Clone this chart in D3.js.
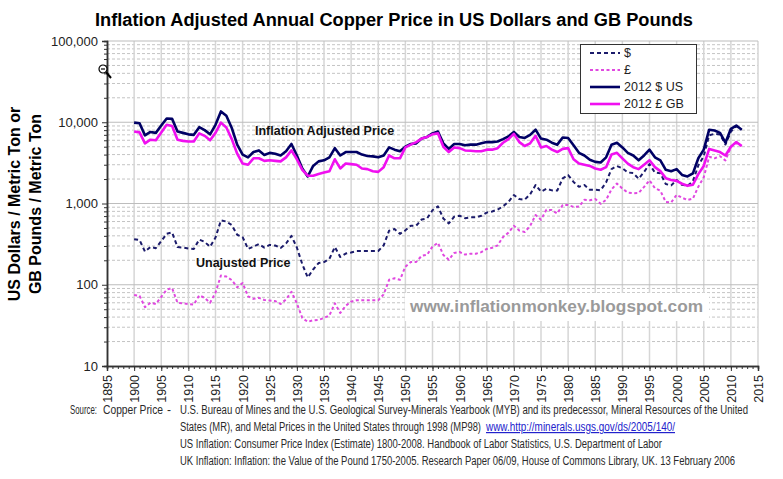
<!DOCTYPE html>
<html>
<head>
<meta charset="utf-8">
<script src="https://cdn.jsdelivr.net/npm/d3@7"></script>
<style>
  body { margin: 0; background: #fff; }
  svg text { font-family: "Liberation Sans", Arial, sans-serif; }
</style>
</head>
<body>
<div id="chart"></div>
<script>
//
// Inflation adjusted copper price, 1900-2012
// nominal and 2012-money prices per metric ton, log scale
//

////////////////////////////////////////////////////////////////////////
// Data

const years = d3.range(1900, 2013);

// nominal US dollars / metric ton
const usNominal = [
  364, 355, 256, 291, 282, 344, 425, 441, 291, 287,     // 1900s
  280, 276, 359, 337, 293, 381, 620, 600, 542, 412,     // 1910s
  386, 276, 295, 317, 287, 309, 304, 284, 322, 399,     // 1920s
  287, 179, 123, 154, 185, 190, 209, 291, 220, 242,     // 1930s
  249, 260, 260, 260, 260, 260, 306, 463, 485, 423,     // 1940s
  467, 534, 534, 635, 655, 827, 922, 653, 569, 688,     // 1950s
  708, 659, 675, 675, 705, 772, 798, 842, 922, 1047,    // 1960s
  1272, 1133, 1116, 1299, 1689, 1400, 1517, 1451, 1444, 2035, // 1970s
  2235, 1845, 1607, 1687, 1473, 1477, 1457, 1819, 2657, 2886, // 1980s
  2716, 2410, 2368, 2019, 2449, 3049, 2403, 2357, 1733, 1671, // 1990s
  1944, 1695, 1656, 1874, 2950, 3825, 6922, 7209, 7077, 5313, // 2000s
  7672, 8929, 8091
];

// nominal GB pounds / metric ton
const gbNominal = [
  75, 73, 53, 60, 58, 71, 87, 91, 60, 59,
  58, 57, 74, 69, 60, 80, 130, 126, 114, 93,
  105, 72, 67, 69, 65, 64, 63, 58, 66, 82,
  59, 39, 35, 36.5, 37, 39, 42, 59, 45, 55,
  62, 64.5, 64.5, 64.5, 64.5, 64.5, 76, 115, 120, 115,
  167, 191, 191, 227, 234, 295, 329, 233, 203, 246,
  253, 235, 241, 241, 252, 276, 285, 306, 386, 438,
  532, 464, 446, 530, 722, 631, 838, 829, 752, 960,
  959, 909, 918, 1110, 1099, 1136, 991, 1109, 1493, 1760,
  1526, 1362, 1338, 1346, 1601, 1930, 1540, 1437, 1044, 1031,
  1279, 1177, 1104, 1150, 1612, 2102, 3762, 3605, 3825, 3384,
  4950, 5581, 5100
];

// 2012 US dollars / metric ton
const usAdjusted = [
  9900, 9700, 6900, 7600, 7400, 9100, 11100, 11000, 7700, 7400,
  7100, 7000, 8700, 8000, 7100, 9300, 13600, 12000, 8500, 5300,
  4000, 3700, 4300, 4500, 3950, 4200, 4100, 3900, 4400, 5400,
  3900, 2700, 2150, 2900, 3300, 3400, 3700, 4800, 3900, 4300,
  4300, 4300, 4000, 3850, 3800, 3700, 3900, 4900, 4600, 4400,
  5000, 5400, 5500, 6300, 6600, 7300, 7700, 5500, 4700, 5400,
  5400, 5200, 5300, 5300, 5500, 5700, 5700, 5800, 6200, 6700,
  7600, 6600, 6400, 7000, 8100, 6300, 6100, 5600, 5300, 6500,
  6400, 5200, 4200, 3900, 3450, 3250, 3200, 3700, 5300, 5600,
  4900, 4200, 3900, 3400, 3900, 4600, 3700, 3400, 2600, 2500,
  2650, 2250, 2150, 2350, 3600, 4600, 8100, 7900, 7400, 5600,
  8300, 9100, 8100
];

// 2012 GB pounds / metric ton
const gbAdjusted = [
  7700, 7500, 5500, 6100, 6000, 7500, 9300, 9000, 6100, 5900,
  5800, 5800, 7300, 6800, 6000, 7400, 9900, 8600, 6200, 4100,
  3100, 3000, 3600, 3600, 3350, 3400, 3350, 3300, 3700, 4500,
  3500, 2600, 2200, 2200, 2300, 2400, 2500, 3500, 2700, 3100,
  3050, 3000, 2700, 2650, 2500, 2450, 2800, 3900, 3600, 3600,
  4900, 5300, 5700, 6300, 6600, 7100, 7300, 5000, 4300, 4900,
  4800, 4500, 4450, 4400, 4400, 4600, 4600, 4800, 5600, 6200,
  7200, 5700, 5100, 5500, 6800, 4900, 5100, 4600, 4300, 4700,
  4800, 3500, 3100, 3000, 2900, 2700, 2600, 2800, 4000, 4200,
  3600, 3100, 2800, 2650, 3000, 3400, 2800, 2500, 2050, 1950,
  1900, 1750, 1650, 1700, 2300, 2900, 4700, 4500, 4300, 3900,
  5000, 5700, 5100
];

const seriesNames = ["$", "£", "2012 $ US", "2012 £ GB"];

// axis ticks
const xMajorTicks = d3.range(1895, 2016, 5);
const xMinorTicks = d3.range(1895, 2016, 1);
const yMajorTicks = [10, 100, 1000, 10000, 100000];

const sourceText = [
  "U.S. Bureau of Mines and the U.S. Geological Survey-Minerals Yearbook (MYB) and its predecessor, Mineral Resources of the United",
  "States (MR), and Metal Prices in the United States through 1998 (MP98)",
  "www.http://minerals.usgs.gov/ds/2005/140/",
  "US Inflation:  Consumer Price Index (Estimate) 1800-2008. Handbook of Labor Statistics, U.S. Department of Labor",
  "UK Inflation:  Inflation: the Value of the Pound 1750-2005. Research Paper 06/09, House of Commons Library, UK. 13 February 2006"
];

////////////////////////////////////////////////////////////////////////
// Layout

const width = 783, height = 479;

const svg = d3.select("#chart")
  .append("svg")
  .attr("width", width)
  .attr("height", height);

const xScale = d3.scaleLinear().domain([1895, 2015]).range([107, 758]);
const yScale = d3.scaleLog().domain([10, 100000]).range([366, 41]);

// minor log positions 2..9 in each decade
let yMinorTicks = [];
yMajorTicks.slice(0, -1).forEach(function (d) {
  for (let k = 2; k <= 9; k++) yMinorTicks.push(d * k);
});

////////////////////////////////////////////////////////////////////////
// Grid

let grid = svg.append("g").attr("class", "grid");

grid.selectAll(".minor")
  .data(yMinorTicks)
  .enter()
  .append("line")
  .attr("x1", xScale(1895))
  .attr("x2", xScale(2015))
  .attr("y1", d => yScale(d))
  .attr("y2", d => yScale(d))
  .attr("stroke", "#c4c4c4")
  .attr("stroke-width", 1)
  .attr("stroke-dasharray", "3,2");

grid.selectAll(".vert")
  .data(xMajorTicks.slice(1))
  .enter()
  .append("line")
  .attr("x1", d => xScale(d))
  .attr("x2", d => xScale(d))
  .attr("y1", yScale(100000))
  .attr("y2", yScale(10))
  .attr("stroke", "#d6d6d6")
  .attr("stroke-width", 1.5);

grid.selectAll(".major")
  .data(yMajorTicks.slice(1))
  .enter()
  .append("line")
  .attr("x1", xScale(1895))
  .attr("x2", xScale(2015))
  .attr("y1", d => yScale(d))
  .attr("y2", d => yScale(d))
  .attr("stroke", "#bdbdbd")
  .attr("stroke-width", 1.2);

// white box behind the blog address
svg.append("rect")
  .attr("x", 405)
  .attr("y", 293)
  .attr("width", 304)
  .attr("height", 28)
  .attr("fill", "#fff");

////////////////////////////////////////////////////////////////////////
// Axes

let yAxis = d3.axisLeft(yScale)
  .tickValues(yMajorTicks)
  .tickFormat(d3.format(","))
  .tickSize(5)
  .tickPadding(4);

let yAxisMinor = d3.axisLeft(yScale)
  .tickValues(yMinorTicks)
  .tickFormat("")
  .tickSize(3);

let xAxis = d3.axisBottom(xScale)
  .tickValues(xMajorTicks)
  .tickFormat(d3.format("d"))
  .tickSize(5)
  .tickPadding(4);

let xAxisMinor = d3.axisBottom(xScale)
  .tickValues(xMinorTicks)
  .tickFormat("")
  .tickSize(3);

svg.append("g")
  .attr("transform", `translate(${xScale(1895)},0)`)
  .call(yAxisMinor);

svg.append("g")
  .attr("id", "yline")
  .attr("transform", `translate(${xScale(1895)},0)`)
  .call(yAxis);

svg.append("g")
  .attr("transform", `translate(0,${yScale(10)})`)
  .call(xAxisMinor);

svg.append("g")
  .attr("id", "xline")
  .attr("transform", `translate(0,${yScale(10)})`)
  .call(xAxis);

svg.selectAll(".domain")
  .attr("stroke", "#333")
  .attr("stroke-width", 1.5);
svg.selectAll(".tick line").attr("stroke", "#333");

svg.select("#yline").selectAll("text")
  .style("font-size", "13px")
  .attr("fill", "#222");

svg.select("#xline").selectAll("text")
  .style("font-size", "12.5px")
  .attr("fill", "#222")
  .attr("text-anchor", "end")
  .attr("transform", "rotate(-90)")
  .attr("x", -9)
  .attr("y", 0)
  .attr("dy", "0.35em");

////////////////////////////////////////////////////////////////////////
// Lines

const series = [
  { name: seriesNames[0], values: usNominal, color: "#1b1b6b", width: 2, dash: "4,3" },
  { name: seriesNames[1], values: gbNominal, color: "#e048e0", width: 2, dash: "3,2.5" },
  { name: seriesNames[2], values: usAdjusted, color: "#000064", width: 2.6, dash: null },
  { name: seriesNames[3], values: gbAdjusted, color: "#f010f0", width: 2.6, dash: null }
];

let line = d3.line()
  .x((d, i) => xScale(years[i]))
  .y(d => yScale(d));

svg.append("g")
  .attr("class", "lines")
  .selectAll("path")
  .data(series)
  .enter()
  .append("path")
  .attr("d", d => line(d.values))
  .attr("fill", "none")
  .attr("stroke", d => d.color)
  .attr("stroke-width", d => d.width)
  .attr("stroke-linejoin", "round")
  .attr("stroke-dasharray", d => d.dash);

////////////////////////////////////////////////////////////////////////
// Legend

let legend = svg.append("g").attr("class", "legend");

legend.append("rect")
  .attr("x", 580.5)
  .attr("y", 44.5)
  .attr("width", 116)
  .attr("height", 69)
  .attr("fill", "#fff")
  .attr("stroke", "#333");

let item = legend.selectAll(".item")
  .data(series)
  .enter()
  .append("g")
  .attr("transform", (d, i) => `translate(0,${53 + i * 17})`);

item.append("line")
  .attr("x1", 590)
  .attr("x2", 620)
  .attr("stroke", d => d.color)
  .attr("stroke-width", d => d.width)
  .attr("stroke-dasharray", d => d.dash);

item.append("text")
  .attr("x", 624)
  .attr("dy", "0.35em")
  .style("font-size", "12.5px")
  .attr("fill", "#222")
  .text(d => d.name);

////////////////////////////////////////////////////////////////////////
// Titles and notes

svg.append("text")
  .attr("x", 95)
  .attr("y", 26)
  .attr("textLength", 598)
  .attr("lengthAdjust", "spacingAndGlyphs")
  .style("font-size", "17.5px")
  .style("font-weight", "bold")
  .text("Inflation Adjusted Annual Copper Price in US Dollars and GB Pounds");

let yTitle = svg.append("text")
  .attr("transform", "translate(20,204) rotate(-90)")
  .attr("text-anchor", "middle")
  .style("font-size", "16px")
  .style("font-weight", "bold");
yTitle.append("tspan").attr("x", 0).attr("y", 0).text("US Dollars / Metric Ton  or");
yTitle.append("tspan").attr("x", 0).attr("y", 21).text("GB Pounds / Metric Ton");

svg.append("text")
  .attr("x", 255)
  .attr("y", 135)
  .style("font-size", "12.5px")
  .style("font-weight", "bold")
  .attr("fill", "#111")
  .text("Inflation Adjusted Price");

svg.append("text")
  .attr("x", 196)
  .attr("y", 267)
  .style("font-size", "12.5px")
  .style("font-weight", "bold")
  .attr("fill", "#111")
  .text("Unajusted Price");

svg.append("text")
  .attr("x", 410)
  .attr("y", 312)
  .attr("textLength", 293)
  .attr("lengthAdjust", "spacingAndGlyphs")
  .style("font-size", "17px")
  .style("font-weight", "bold")
  .attr("fill", "#9a9a9a")
  .text("www.inflationmonkey.blogspot.com");

// zoom cursor left over from the screen grab
let cursor = svg.append("g").attr("transform", "translate(103,69)");
cursor.append("line")
  .attr("x1", 3).attr("y1", 3).attr("x2", 8).attr("y2", 9)
  .attr("stroke", "#000").attr("stroke-width", 2);
cursor.append("circle")
  .attr("r", 4).attr("fill", "#fff").attr("stroke", "#000").attr("stroke-width", 1.2);
cursor.append("line")
  .attr("x1", -2).attr("x2", 2)
  .attr("stroke", "#000").attr("stroke-width", 1.2);

// sources: narrow lettering, squeezed to the widths in the picture
let notes = svg.append("g")
  .style("font-size", "12px")
  .attr("fill", "#2a2a2a");

function note(x, y, len, str) {
  return notes.append("text")
    .attr("x", x)
    .attr("y", y)
    .attr("textLength", len)
    .attr("lengthAdjust", "spacingAndGlyphs")
    .text(str);
}

note(70, 414, 27, "Source:");
note(103, 414, 60, "Copper Price");
notes.append("text").attr("x", 167).attr("y", 414).text("-");
note(180, 414, 568, sourceText[0]);
note(180, 431, 301, sourceText[1]);
note(486, 431, 189, sourceText[2])
  .attr("fill", "#2222cc")
  .style("text-decoration", "underline");
note(180, 448, 482, sourceText[3]);
note(180, 465, 555, sourceText[4]);
</script>
</body>
</html>
